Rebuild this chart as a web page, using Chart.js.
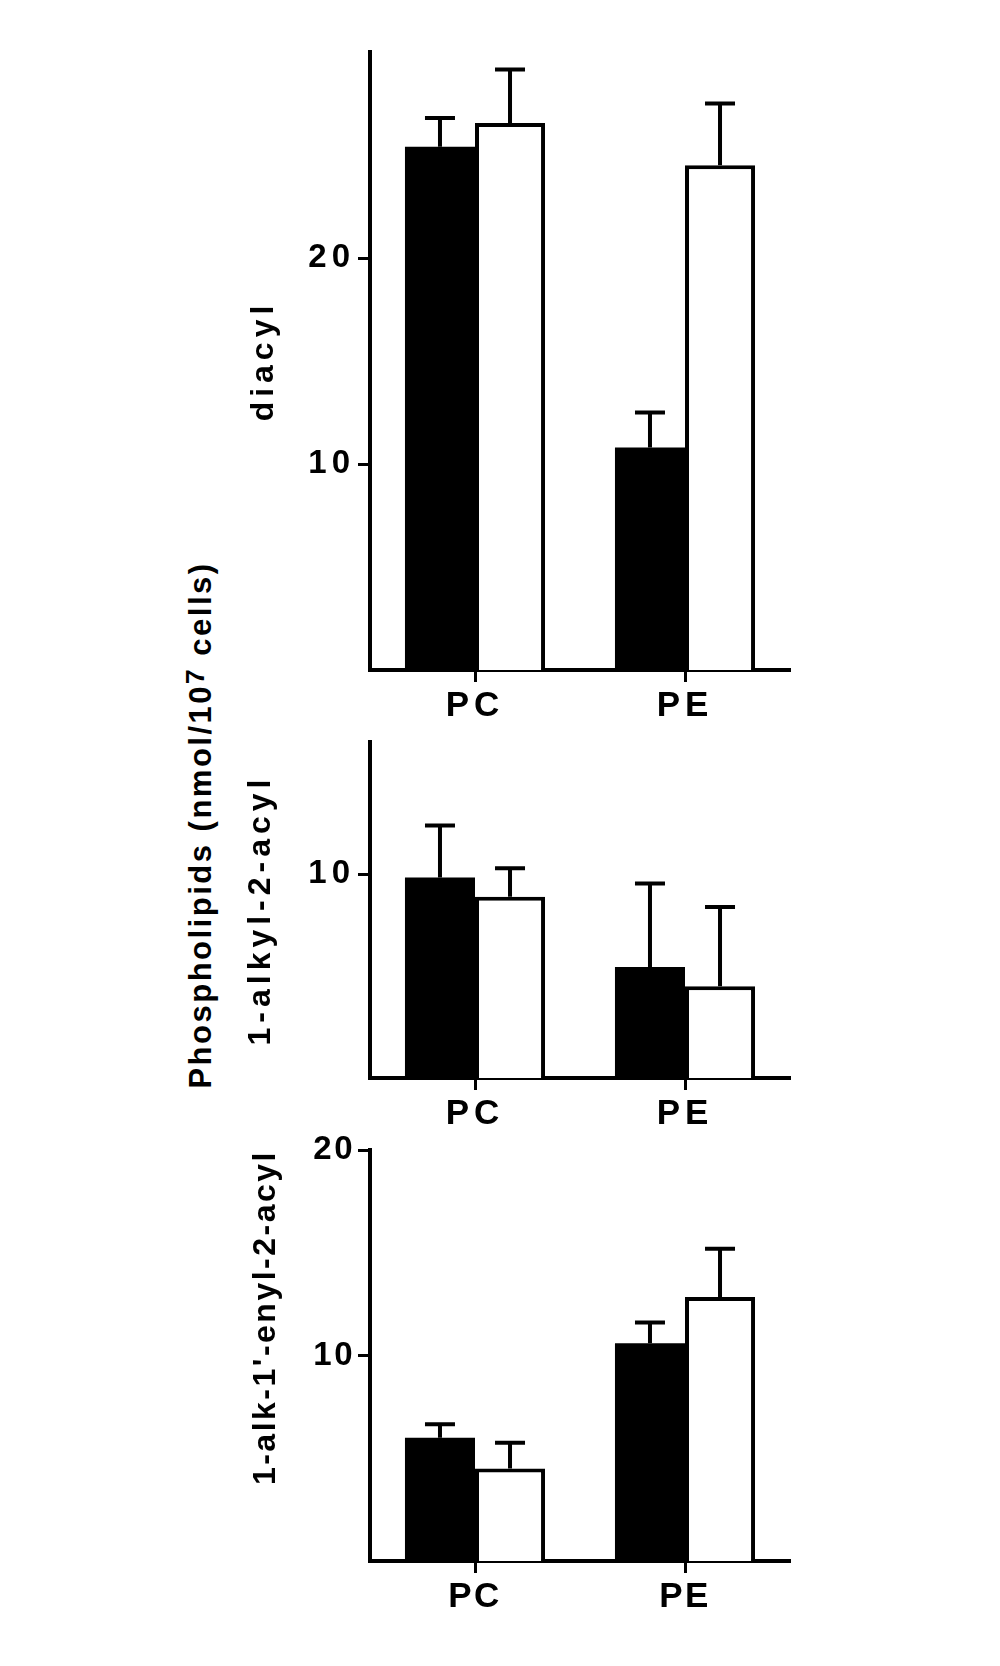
<!DOCTYPE html>
<html>
<head>
<meta charset="utf-8">
<script src="https://cdn.jsdelivr.net/npm/chart.js@4.4.1/dist/chart.umd.min.js"></script>
<style>
  html, body { margin: 0; padding: 0; background: #fff; }
  body { width: 1000px; height: 1666px; position: relative; overflow: hidden; }
  canvas { position: absolute; left: 0; }
  #ytitle {
    position: absolute; left: 201px; top: 825px;
    transform: translate(-50%, -50%) rotate(-90deg);
    white-space: nowrap; color: #000;
    font: bold 31px "Liberation Sans", Arial, Helvetica, sans-serif;
    letter-spacing: 2.5px;
  }
  #ytitle sup { font-size: 0.85em; vertical-align: 0.25em; line-height: 0; }
</style>
</head>
<body>
<div id="ytitle">Phospholipids (nmol/10<sup>7</sup> cells)</div>
<canvas id="c1" width="1000" height="740" style="top:0px"></canvas>
<canvas id="c2" width="1000" height="440" style="top:700px"></canvas>
<canvas id="c3" width="1000" height="556" style="top:1110px"></canvas>
<script>
// ---- data ----
const categories = ['PC', 'PE'];

const diacylTitle = 'diacyl';
const diacylBlack = [25.4, 10.8];
const diacylBlackErr = [1.4, 1.7];
const diacylWhite = [26.55, 24.5];
const diacylWhiteErr = [2.6, 3.0];
const diacylTicks = [10, 20];
const diacylMax = 30;

const alkylTitle = '1-alkyl-2-acyl';
const alkylBlack = [9.85, 5.45];
const alkylBlackErr = [2.55, 4.1];
const alkylWhite = [8.9, 4.5];
const alkylWhiteErr = [1.4, 3.9];
const alkylTicks = [10];
const alkylMax = 16.5;

const alkenylTitle = "1-alk-1'-enyl-2-acyl";
const alkenylBlack = [6.0, 10.6];
const alkenylBlackErr = [0.65, 1.0];
const alkenylWhite = [4.5, 12.85];
const alkenylWhiteErr = [1.25, 2.35];
const alkenylTicks = [10, 20];
const alkenylMax = 20;

// ---- rendering ----
const FAMILY = '"Liberation Sans", Arial, Helvetica, sans-serif';

function spacingPlugin(px) {
  return { id: 'spacing', beforeDraw(chart) { chart.ctx.letterSpacing = px + 'px'; } };
}

const errorBarPlugin = {
  id: 'errorBars',
  afterDatasetsDraw(chart) {
    const ctx = chart.ctx;
    const yScale = chart.scales.y;
    chart.data.datasets.forEach((ds, di) => {
      const meta = chart.getDatasetMeta(di);
      meta.data.forEach((bar, i) => {
        const top = yScale.getPixelForValue(ds.data[i] + ds.errors[i]);
        ctx.save();
        ctx.strokeStyle = '#000';
        ctx.lineWidth = 4;
        ctx.beginPath();
        ctx.moveTo(bar.x, bar.y);
        ctx.lineTo(bar.x, top);
        ctx.moveTo(bar.x - 15, top);
        ctx.lineTo(bar.x + 15, top);
        ctx.stroke();
        ctx.restore();
      });
    });
  }
};

function makeChart(id, cfg) {
  return new Chart(document.getElementById(id), {
    type: 'bar',
    data: {
      labels: categories,
      datasets: [
        { label: 'filled', data: cfg.black, errors: cfg.blackErr,
          backgroundColor: '#000', borderColor: '#000', borderWidth: 0 },
        { label: 'open', data: cfg.white, errors: cfg.whiteErr,
          backgroundColor: '#fff', borderColor: '#000', borderWidth: 4,
          borderSkipped: 'bottom' }
      ]
    },
    options: {
      responsive: false,
      animation: false,
      devicePixelRatio: 1,
      categoryPercentage: 0.667,
      barPercentage: 1.0,
      layout: { padding: { top: cfg.padTop, right: 210, bottom: 0, left: 0 } },
      plugins: { legend: { display: false }, tooltip: { enabled: false } },
      scales: {
        x: {
          offset: true,
          grid: { display: true, drawOnChartArea: false, offset: false,
                  tickLength: 12, tickWidth: 3, tickColor: '#000' },
          border: { display: true, color: '#000', width: 4 },
          ticks: { color: '#000', padding: 3,
                   font: { family: FAMILY, size: 35, weight: 'bold' } },
          afterFit(s) { s.height = cfg.xHeight; }
        },
        y: {
          min: 0, max: cfg.max,
          afterBuildTicks(s) { s.ticks = cfg.ticks.map(v => ({ value: v })); },
          grid: { display: true, drawOnChartArea: false,
                  tickLength: 12, tickWidth: 3, tickColor: '#000' },
          border: { display: true, color: '#000', width: 4 },
          ticks: { color: '#000', padding: 3,
                   font: { family: FAMILY, size: 33, weight: 'bold' } },
          title: { display: true, text: cfg.title, color: '#000', align: cfg.align,
                   font: { family: FAMILY, size: 32, weight: 'bold' },
                   padding: { top: cfg.titleX - 19, bottom: 0 } },
          afterFit(s) { s.width = 370; }
        }
      }
    },
    plugins: [spacingPlugin(cfg.spacing), errorBarPlugin]
  });
}

makeChart('c1', { black: diacylBlack, blackErr: diacylBlackErr, white: diacylWhite,
  whiteErr: diacylWhiteErr, ticks: diacylTicks, max: diacylMax, title: diacylTitle,
  padTop: 52, xHeight: 70, titleX: 264, align: 'center', spacing: 5 });
makeChart('c2', { black: alkylBlack, blackErr: alkylBlackErr, white: alkylWhite,
  whiteErr: alkylWhiteErr, ticks: alkylTicks, max: alkylMax, title: alkylTitle,
  padTop: 42, xHeight: 62, titleX: 261, align: 'center', spacing: 5 });
makeChart('c3', { black: alkenylBlack, blackErr: alkenylBlackErr, white: alkenylWhite,
  whiteErr: alkenylWhiteErr, ticks: alkenylTicks, max: alkenylMax, title: alkenylTitle,
  padTop: 40, xHeight: 105, titleX: 266, align: 'end', spacing: 2.5 });
</script>
</body>
</html>
